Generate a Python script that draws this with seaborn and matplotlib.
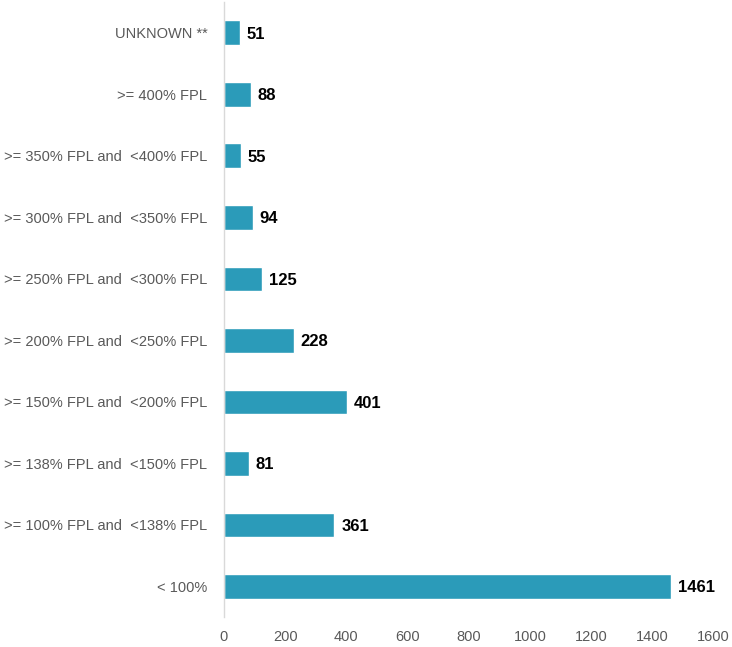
import matplotlib
matplotlib.use("Agg")
import matplotlib.pyplot as plt
import seaborn as sns
import pandas as pd

categories = [
    "UNKNOWN **",
    ">= 400% FPL",
    ">= 350% FPL and  <400% FPL",
    ">= 300% FPL and  <350% FPL",
    ">= 250% FPL and  <300% FPL",
    ">= 200% FPL and  <250% FPL",
    ">= 150% FPL and  <200% FPL",
    ">= 138% FPL and  <150% FPL",
    ">= 100% FPL and  <138% FPL",
    "< 100%",
]
counts = [51, 88, 55, 94, 125, 228, 401, 81, 361, 1461]
x_ticks = [0, 200, 400, 600, 800, 1000, 1200, 1400, 1600]

df = pd.DataFrame({"category": categories, "count": counts})

sns.set_style("white")
plt.rcParams["font.family"] = ["Liberation Sans", "DejaVu Sans"]

fig = plt.figure(figsize=(7.32, 6.47), dpi=100)
ax = fig.add_axes([0.306, 0.046, 0.669, 0.951])

sns.barplot(data=df, x="count", y="category", color="#2B9BB9", width=0.4,
            saturation=1, ax=ax)

# value labels at the end of each bar
for i, v in enumerate(counts):
    ax.text(v + 22, i, str(v), va="center_baseline", ha="left",
            fontsize=12, fontweight="bold", color="black")

ax.set_xlim(0, 1600)
ax.set_xticks(x_ticks)
ax.set_xlabel("")
ax.set_ylabel("")
ax.tick_params(axis="both", length=0, labelsize=10.5, labelcolor="#595959")
ax.tick_params(axis="x", pad=9)
ax.tick_params(axis="y", pad=12)
for s in ["top", "right", "bottom"]:
    ax.spines[s].set_visible(False)
ax.spines["left"].set_color("#d9d9d9")
ax.spines["left"].set_linewidth(1)

fig.savefig("out.png", dpi=100)
